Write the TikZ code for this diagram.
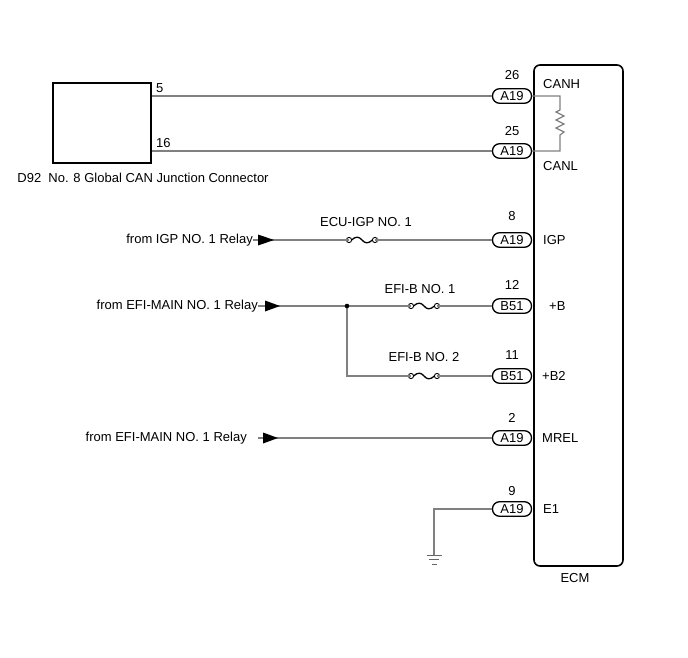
\documentclass[tikz,border=0pt]{standalone}
\usepackage{fontspec}
\setmainfont{Liberation Sans}
\begin{document}
\begin{tikzpicture}[x=1pt,y=-1pt,
  wire/.style={draw=black!50, line width=1.2pt},
  boxline/.style={draw=black, line width=1.6pt},
  conn/.style={draw=black, line width=1.3pt, rounded corners=7pt, minimum width=39pt, minimum height=14.5pt, inner sep=0pt, fill=white, font=\fontsize{13}{15}\selectfont},
  lbl/.style={inner sep=0pt, font=\fontsize{13}{15}\selectfont},
  arrowtri/.style={fill=black},
  fuse/.pic={
    \draw[black, line width=1.3pt] (-10.5,0) .. controls (-6,-4) and (-3,-3.5) .. (0,0) .. controls (3,3.5) and (6,4) .. (10.5,0);
    \draw[black, line width=0.9pt, fill=white] (-13,0) circle (2.6) (13,0) circle (2.6);
  }]
\useasboundingbox (0,0) rectangle (688,658);

% D92 connector
\node[boxline, minimum width=98pt, minimum height=80pt, inner sep=0pt] (d92) at (102,123) {};
\node[lbl] (d92t) at (143,178) {D92\ \ No. 8 Global CAN Junction Connector};
\node[lbl, anchor=west] (p5) at (156,88) {5};
\node[lbl, anchor=west] (p16) at (156,143) {16};

% ECM
\draw[boxline, rounded corners=6pt] (534,65) rectangle (623,566);
\node[lbl] (ecm) at (575,578) {ECM};

% connectors
\node[conn] (c26) at (512,96) {A19};
\node[lbl] (n26) at (512,75) {26};
\node[conn] (c25) at (512,151) {A19};
\node[lbl] (n25) at (512,131) {25};
\node[conn] (c8) at (512,240) {A19};
\node[lbl] (n8) at (512,216) {8};
\node[conn] (c12) at (512,306) {B51};
\node[lbl] (n12) at (512,285) {12};
\node[conn] (c11) at (512,376) {B51};
\node[lbl] (n11) at (512,355) {11};
\node[conn] (c2) at (512,438) {A19};
\node[lbl] (n2) at (512,418) {2};
\node[conn] (c9) at (512,509) {A19};
\node[lbl] (n9) at (512,491) {9};

\coordinate (d5) at (d92.east |- c26.west);
\coordinate (d16) at (d92.east |- c25.west);

% ECM pin labels
\node[lbl, anchor=west] (canh) at (543,84) {CANH};
\node[lbl, anchor=west] (canl) at (543,166) {CANL};
\node[lbl, anchor=west] (igp) at (543,240) {IGP};
\node[lbl, anchor=west] (pb) at (549,306) {+B};
\node[lbl, anchor=west] (pb2) at (542,376) {+B2};
\node[lbl, anchor=west] (mrel) at (542,438) {MREL};
\node[lbl, anchor=west] (e1) at (543,509) {E1};

% CAN wires
\draw[wire] (d5) -- (c26.west);
\draw[wire] (d16) -- (c25.west);

% terminating resistor
\coordinate (r1) at (560,110);
\coordinate (r2) at (560,135);
\draw[wire] (c26.east) -- (c26.east -| r1) -- (r1)
  -- ++(-4,2) -- ++(8,4) -- ++(-8,4) -- ++(8,4) -- ++(-8,4) -- ++(8,4) -- (r2)
  -- (r2 |- c25.east) -- (c25.east);

% IGP row
\node[lbl, anchor=east] (src1) at (253,240.5) {from IGP NO. 1 Relay};
\pic (f1) at (362,240) {fuse};
\node[lbl] (f1t) at (366,222) {ECU-IGP NO. 1};
\coordinate (f1l) at (349.4,240);
\coordinate (f1r) at (374.6,240);
\draw[wire] (src1.east |- f1l) -- (f1l);
\draw[wire] (f1r) -- (c8.west);
\fill[arrowtri] (258,234.5) -- (274,240) -- (258,245.5) -- cycle;

% +B rows
\node[lbl, anchor=east] (src2) at (258,306.5) {from EFI-MAIN NO. 1 Relay};
\coordinate (j) at (347,306);
\pic (f2) at (424,306) {fuse};
\node[lbl] (f2t) at (420,289) {EFI-B NO. 1};
\coordinate (f2l) at (411.4,306);
\coordinate (f2r) at (436.6,306);
\pic (f3) at (424,376) {fuse};
\node[lbl] (f3t) at (424,357) {EFI-B NO. 2};
\coordinate (f3l) at (411.4,376);
\coordinate (f3r) at (436.6,376);
\draw[wire] (src2.east |- j) -- (j) -- (f2l);
\draw[wire] (f2r) -- (c12.west);
\draw[wire] (j) -- (j |- f3l) -- (f3l);
\draw[wire] (f3r) -- (c11.west);
\fill[arrowtri] (265,300.5) -- (280,306) -- (265,311.5) -- cycle;
\fill (j) circle (2.3);

% MREL row
\node[lbl, anchor=east] (src3) at (247,438.5) {from EFI-MAIN NO. 1 Relay};
\coordinate (s3) at (258,438);
\draw[wire] (s3) -- (c2.west);
\fill[arrowtri] (263,432.5) -- (278,438) -- (263,443.5) -- cycle;

% E1 ground
\coordinate (g) at (434,555);
\draw[wire] (c9.west) -- (c9.west -| g) -- (g);
\draw[black!60, line width=1pt] (426.5,555) -- (441.5,555)
  (429,559.5) -- (439,559.5) (431.5,564) -- (436.5,564);
\end{tikzpicture}
\end{document}
